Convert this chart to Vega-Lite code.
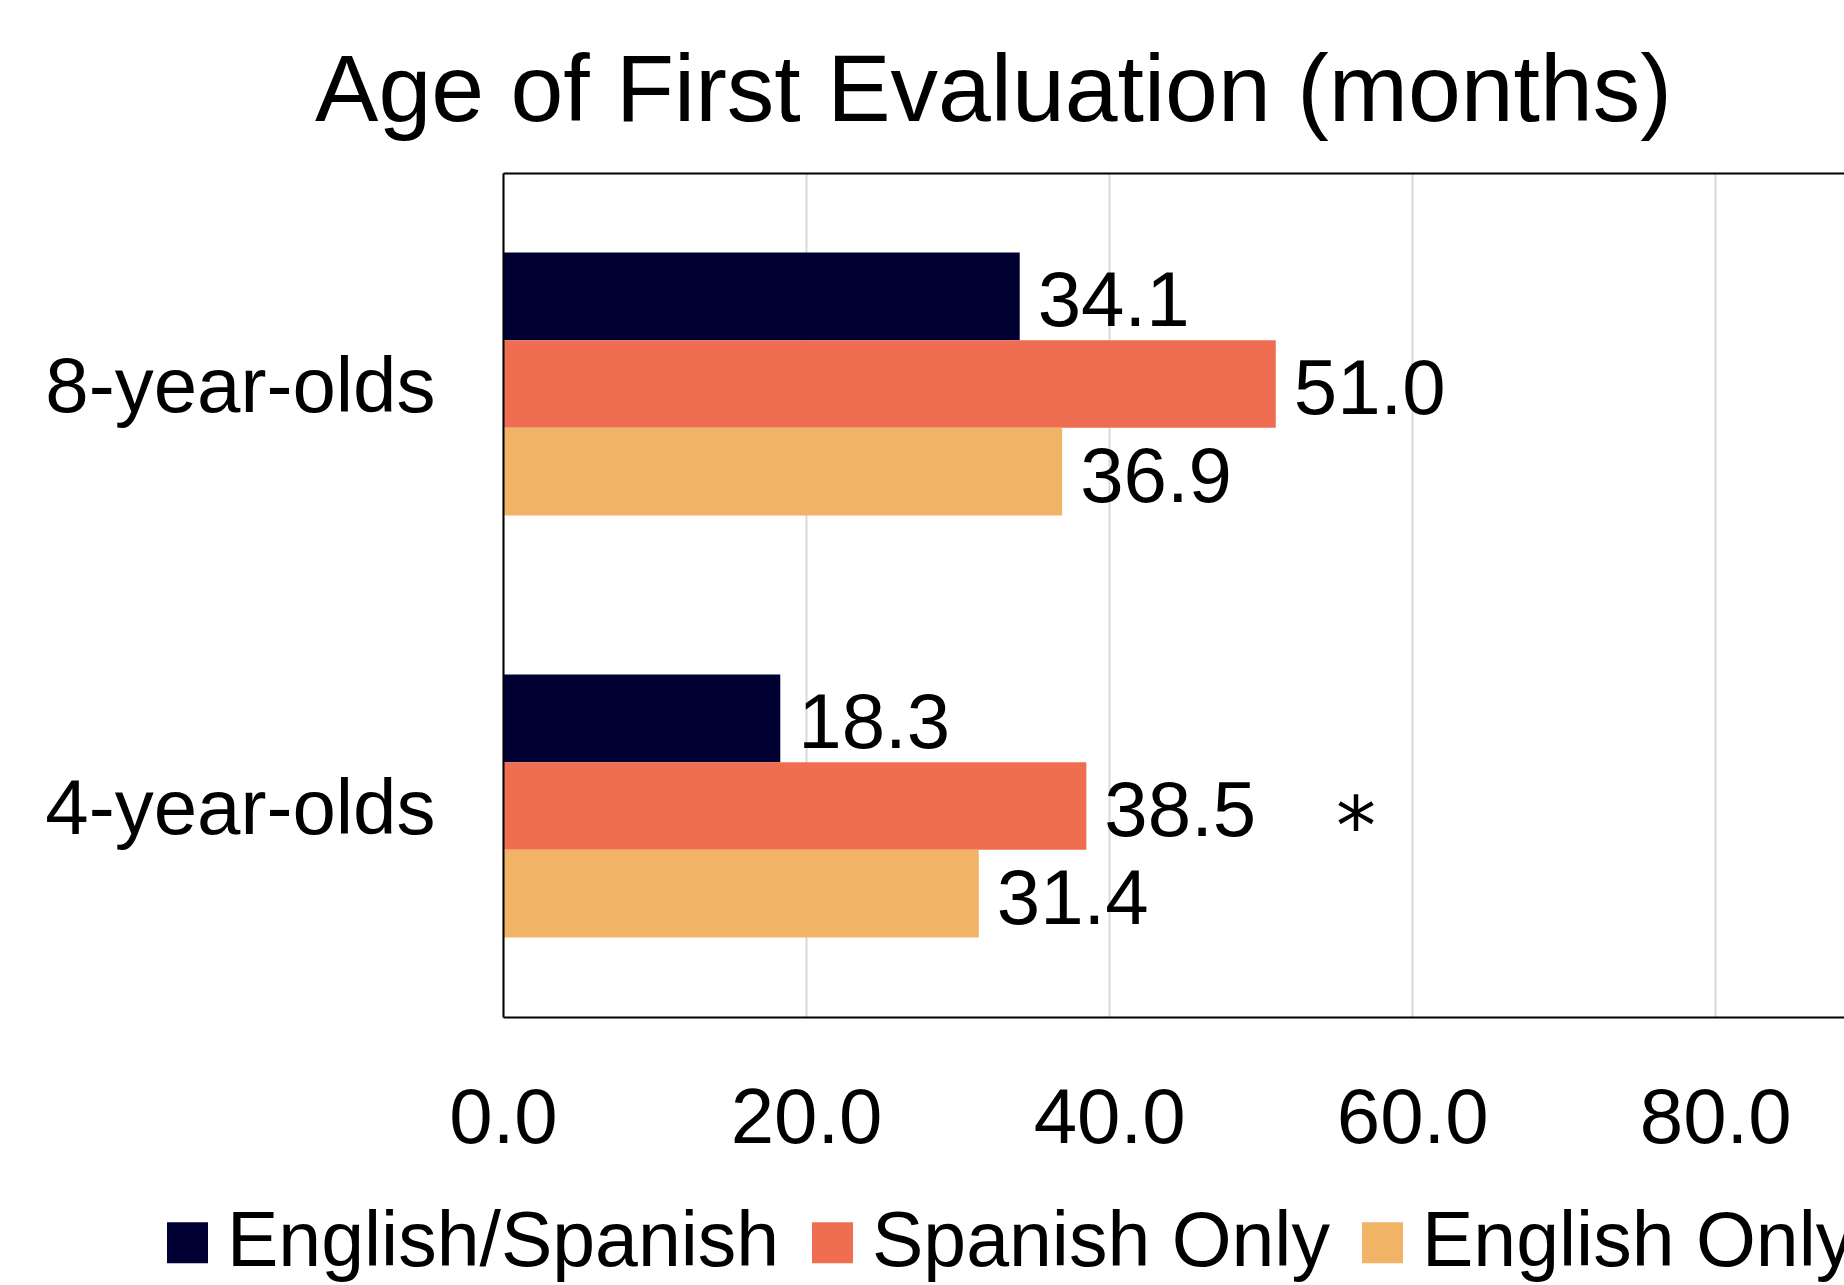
{
  "$schema": "https://vega.github.io/schema/vega-lite/v6.json",
  "width": 1341,
  "height": 844,
  "autosize": {"type": "none"},
  "padding": {"left": 503, "top": 173, "right": 0, "bottom": 268},
  "background": "white",
  "config": {"view": {"stroke": null}, "font": "Liberation Sans"},
  "title": {
    "text": "Age of First Evaluation (months)",
    "fontSize": 95,
    "font": "Liberation Sans",
    "fontWeight": "normal",
    "color": "black",
    "anchor": "middle",
    "frame": "group",
    "dx": -180,
    "offset": 32
  },
  "datasets": {
    "bars": [
      {"age": "8-year-olds", "series": "English/Spanish", "months": 34.1},
      {"age": "8-year-olds", "series": "Spanish Only", "months": 51.0},
      {"age": "8-year-olds", "series": "English Only", "months": 36.9},
      {"age": "4-year-olds", "series": "English/Spanish", "months": 18.3},
      {"age": "4-year-olds", "series": "Spanish Only", "months": 38.5},
      {"age": "4-year-olds", "series": "English Only", "months": 31.4}
    ],
    "notes": [
      {"age": "4-year-olds", "series": "Spanish Only", "position": 56.3, "note": "*"}
    ]
  },
  "layer": [
    {
      "data": {"name": "bars"},
      "mark": {"type": "bar"},
      "encoding": {
        "y": {
          "field": "age", "type": "nominal",
          "sort": ["8-year-olds", "4-year-olds"],
          "scale": {"paddingInner": 0.377, "paddingOuter": 0.1885},
          "axis": {
            "title": null, "labelFont": "Liberation Sans", "labelFontSize": 78,
            "labelColor": "black", "labelPadding": 68, "labelLimit": 0,
            "ticks": false, "tickSize": 0,
            "domain": true, "domainColor": "black", "domainWidth": 2,
            "labelOffset": 5, "zindex": 1
          }
        },
        "yOffset": {
          "field": "series", "type": "nominal",
          "sort": ["English/Spanish", "Spanish Only", "English Only"],
          "scale": {"paddingInner": 0, "paddingOuter": 0}
        },
        "x": {
          "field": "months", "type": "quantitative",
          "scale": {"domain": [0, 88.5], "nice": false, "zero": true},
          "axis": {
            "title": null, "orient": "bottom", "values": [0, 20, 40, 60, 80],
            "format": ".1f", "labelFont": "Liberation Sans", "labelFontSize": 78,
            "labelColor": "black", "labelPadding": 63, "ticks": false, "tickSize": 0,
            "labelFlush": false,
            "domainColor": "black", "domainWidth": 2,
            "grid": true, "gridColor": "#D9D9D9", "gridWidth": 2
          }
        },
        "color": {
          "field": "series", "type": "nominal",
          "sort": ["English/Spanish", "Spanish Only", "English Only"],
          "scale": {
            "domain": ["English/Spanish", "Spanish Only", "English Only"],
            "range": ["#000033", "#EF6E52", "#F1B366"]
          },
          "legend": {
            "title": null, "orient": "none", "direction": "horizontal",
            "legendX": -354, "legendY": 1031,
            "symbolType": "square", "symbolSize": 1681, "symbolStrokeWidth": 0,
            "labelFont": "Liberation Sans", "labelFontSize": 77, "labelColor": "black",
            "labelOffset": 1, "columnPadding": 14, "labelLimit": 0, "padding": 0
          }
        }
      }
    },
    {
      "data": {"name": "bars"},
      "mark": {
        "type": "text", "align": "left", "baseline": "middle", "dx": 18, "dy": 7,
        "font": "Liberation Sans", "fontSize": 78, "color": "black"
      },
      "encoding": {
        "y": {"field": "age", "type": "nominal", "sort": ["8-year-olds", "4-year-olds"]},
        "yOffset": {"field": "series", "type": "nominal", "sort": ["English/Spanish", "Spanish Only", "English Only"]},
        "x": {
          "field": "months", "type": "quantitative",
          "scale": {"domain": [0, 88.5], "nice": false, "zero": true},
          "axis": {
            "orient": "top", "title": null, "labels": false, "ticks": false,
            "grid": false, "domainColor": "black", "domainWidth": 2
          }
        },
        "text": {"field": "months", "type": "quantitative", "format": ".1f"}
      }
    },
    {
      "data": {"name": "notes"},
      "mark": {
        "type": "text", "align": "center", "baseline": "middle", "dy": 24,
        "font": "DejaVu Sans", "fontSize": 80, "color": "black"
      },
      "encoding": {
        "y": {"field": "age", "type": "nominal", "sort": ["8-year-olds", "4-year-olds"]},
        "yOffset": {"field": "series", "type": "nominal", "sort": ["English/Spanish", "Spanish Only", "English Only"]},
        "x": {
          "field": "position", "type": "quantitative",
          "scale": {"domain": [0, 88.5], "nice": false, "zero": true},
          "axis": null
        },
        "text": {"field": "note", "type": "nominal"}
      }
    }
  ],
  "resolve": {"axis": {"x": "independent"}}
}
